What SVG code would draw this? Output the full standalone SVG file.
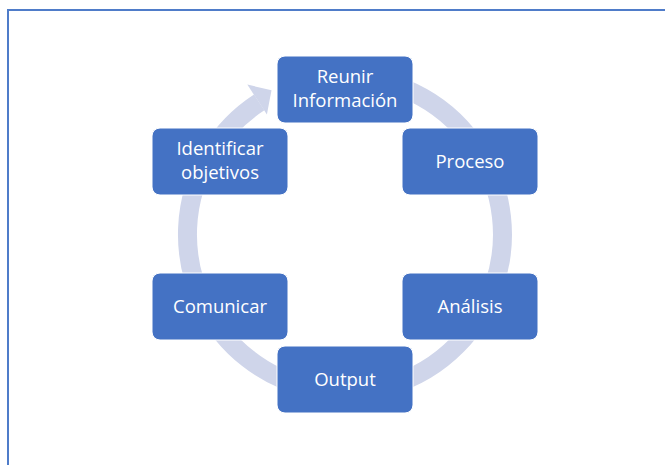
<svg xmlns="http://www.w3.org/2000/svg" width="665" height="465" viewBox="0 0 665 465">
<style>
.box{fill:#4472c4;stroke:#ffffff;stroke-width:1}
.lbl{fill:#ffffff;font-family:"Open Sans","Noto Sans",sans-serif;font-size:18.5px;text-anchor:middle}
.ring{fill:none;stroke:#cfd5ea;stroke-width:19}
</style>
<rect x="0" y="0" width="665" height="465" fill="#ffffff"/>
<rect x="8" y="10" width="700" height="500" fill="none" stroke="#4f7cc9" stroke-width="2"/>
<g id="connectors">
<path class="ring" d="M345 77 A157.5 157.5 0 1 1 259.2 102.4"/>
<polygon points="266.9,114.6 247.3,84.6 271.5,90.2" fill="#cfd5ea"/>
</g>
<g id="n1"><rect class="box" x="277" y="56" width="136" height="67" rx="8"/><text class="lbl" x="345" y="83">Reunir</text><text class="lbl" x="345" y="107">Información</text></g>
<g id="n2"><rect class="box" x="402" y="128" width="136" height="67" rx="8"/><text class="lbl" x="470" y="168">Proceso</text></g>
<g id="n3"><rect class="box" x="402" y="273" width="136" height="67" rx="8"/><text class="lbl" x="470" y="313">Análisis</text></g>
<g id="n4"><rect class="box" x="277" y="346" width="136" height="67" rx="8"/><text class="lbl" x="345" y="386">Output</text></g>
<g id="n5"><rect class="box" x="152" y="273" width="136" height="67" rx="8"/><text class="lbl" x="220" y="313">Comunicar</text></g>
<g id="n6"><rect class="box" x="152" y="128" width="136" height="67" rx="8"/><text class="lbl" x="220" y="155">Identificar</text><text class="lbl" x="220" y="179">objetivos</text></g>
</svg>
